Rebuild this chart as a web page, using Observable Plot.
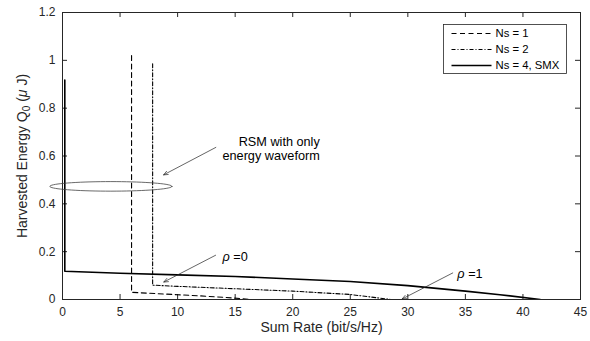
<!DOCTYPE html>
<html><head><meta charset="utf-8">
<script src="https://cdn.jsdelivr.net/npm/d3@7"></script>
<script src="https://cdn.jsdelivr.net/npm/@observablehq/plot@0.6"></script>
<style>body{margin:0;background:#fff} #chart{width:590px;height:341px}</style>
</head><body><div id="chart"></div>
<script>
// ---- data ----
const xTicks = [0, 5, 10, 15, 20, 25, 30, 35, 40, 45];
const yTicks = [0, 0.2, 0.4, 0.6, 0.8, 1, 1.2];
const seriesNames = ["Ns = 1", "Ns = 2", "Ns = 4, SMX"];
const ns1X = [6, 6, 8, 10, 12, 14, 15.5, 16.4];
const ns1Y = [1.02, 0.03, 0.025, 0.02, 0.015, 0.009, 0.004, 0];
const ns2X = [7.83, 7.83, 10, 15, 20, 25, 28.5];
const ns2Y = [0.986, 0.06, 0.055, 0.045, 0.035, 0.021, 0];
const ns4X = [0.2, 0.2, 5, 10, 15, 20, 25, 30, 35, 38, 41.5];
const ns4Y = [0.918, 0.118, 0.11, 0.103, 0.096, 0.086, 0.075, 0.058, 0.035, 0.02, 0];
// annotations
const arrowX1 = [13.32, 13.3, 33.9];
const arrowY1 = [0.636, 0.185, 0.111];
const arrowX2 = [8.78, 8.8, 29.5];
const arrowY2 = [0.521, 0.073, 0.002];
const rsmText = "RSM with only\nenergy waveform";
const rsmX = 22.35, rsmY = 0.632;
const rhoText = ["ρ =0", "ρ =1"];
const rhoX = [13.9, 34.3];
const rhoY = [0.18, 0.105];
const ellipseCenter = [4.2, 0.473];
const ellipseRadii = [5.3, 0.02];
const xLabel = "Sum Rate (bit/s/Hz)";
const yLabel = "Harvested Energy Q0 (μ J)";

// ---- build tables ----
const dashes = ["5,3.5", "4,2,1,2", null];
const widths = [1.1, 1.1, 1.6];
const xs = [ns1X, ns2X, ns4X], ys = [ns1Y, ns2Y, ns4Y];
const lineData = seriesNames.flatMap((s, i) => xs[i].map((x, j) => ({series: s, x, y: ys[i][j]})));
const arrows = arrowX1.map((x, i) => ({x1: x, y1: arrowY1[i], x2: arrowX2[i], y2: arrowY2[i]}));
const rhos = rhoText.map((t, i) => ({t, x: rhoX[i], y: rhoY[i]}));
const ellipse = d3.range(0, 73).map(k => {
  const a = (k / 72) * 2 * Math.PI;
  return {x: ellipseCenter[0] + ellipseRadii[0] * Math.cos(a), y: ellipseCenter[1] + ellipseRadii[1] * Math.sin(a)};
});

const W = 590, H = 341, mt = 12, mb = 42, ml = 62, mr = 10;
const iw = W - ml - mr, ih = H - mt - mb;
const xDom = [0, 45], yDom = [0, 1.2];
const tx = 5 / iw * (xDom[1] - xDom[0]);   // 5px tick length in x units
const ty = 5 / ih * (yDom[1] - yDom[0]);   // 5px tick length in y units
const axisColor = "#262626";
const font = "'Liberation Sans', Arial, Helvetica, sans-serif";

const marks = [
  Plot.frame({stroke: axisColor, strokeWidth: 1}),
  Plot.ruleX(xTicks, {x: d => d, y1: yDom[0], y2: yDom[0] + ty, stroke: axisColor}),
  Plot.ruleX(xTicks, {x: d => d, y1: yDom[1], y2: yDom[1] - ty, stroke: axisColor}),
  Plot.ruleY(yTicks, {y: d => d, x1: xDom[0], x2: xDom[0] + tx, stroke: axisColor}),
  Plot.ruleY(yTicks, {y: d => d, x1: xDom[1], x2: xDom[1] - tx, stroke: axisColor}),
  Plot.axisX({ticks: xTicks, tickSize: 0, tickPadding: 8, label: null, fill: axisColor, fontSize: 12, tickFormat: d => String(d)}),
  Plot.axisY({ticks: yTicks, tickSize: 0, tickPadding: 7, label: null, fill: axisColor, fontSize: 12, tickFormat: d => String(+d.toFixed(1))}),
  Plot.text([xLabel], {text: d => d, frameAnchor: "bottom", dy: 23, lineAnchor: "top", fill: axisColor, fontSize: 14}),
  Plot.text([yLabel], {text: d => d, frameAnchor: "left", dx: -40, rotate: -90, lineAnchor: "middle", textAnchor: "middle", fill: axisColor, fontSize: 14}),
  ...seriesNames.map((s, i) => Plot.line(lineData.filter(d => d.series === s), {
    x: "x", y: "y", stroke: "#000", strokeWidth: widths[i], strokeDasharray: dashes[i], clip: true
  })),
  Plot.line(ellipse, {x: "x", y: "y", stroke: "#444", strokeWidth: 0.8, curve: "linear-closed"}),
  Plot.arrow(arrows, {x1: "x1", y1: "y1", x2: "x2", y2: "y2", stroke: "#222", strokeWidth: 0.7, headLength: 10, headAngle: 45}),
  Plot.text([rsmText], {x: () => rsmX, y: () => rsmY, text: d => d, textAnchor: "end", fill: "#000", fontSize: 12.7, lineHeight: 1.08}),
  Plot.text(rhos, {x: "x", y: "y", text: "t", textAnchor: "start", fill: "#000", fontSize: 12.7})
];

const svg = Plot.plot({
  width: W, height: H, marginTop: mt, marginBottom: mb, marginLeft: ml, marginRight: mr,
  style: {fontFamily: font, background: "#fff", overflow: "visible"},
  x: {domain: xDom},
  y: {domain: yDom},
  marks
});

// rich text: subscript and italic Greek
const sel = d3.select(svg);
sel.selectAll("text").filter(function() { return this.textContent === yLabel; }).each(function() {
  const t = d3.select(this).text(null);
  t.append("tspan").text("Harvested Energy Q");
  t.append("tspan").attr("font-size", 10).attr("dy", 3).text("0");
  t.append("tspan").attr("dy", -3).text(" (");
  t.append("tspan").attr("font-style", "italic").text("μ");
  t.append("tspan").text(" J)");
});
sel.selectAll("text").filter(function() { return /^ρ/.test(this.textContent) && this.childElementCount === 0; }).each(function() {
  const s = this.textContent;
  const t = d3.select(this).text(null);
  t.append("tspan").attr("font-style", "italic").text("ρ");
  t.append("tspan").text(s.slice(1));
});

// legend (inside axes, top-right)
const lg = sel.append("g").attr("font-family", font).attr("font-size", 11.3).attr("text-anchor", "start");
const lx = 443.5, ly = 24.5, lw = 123, lh = 49;
lg.append("rect").attr("x", lx).attr("y", ly).attr("width", lw).attr("height", lh)
  .attr("fill", "#fff").attr("stroke", axisColor).attr("stroke-width", 0.8);
seriesNames.forEach((s, i) => {
  const yy = ly + 9 + i * 16;
  lg.append("line").attr("x1", lx + 8).attr("x2", lx + 48).attr("y1", yy).attr("y2", yy)
    .attr("stroke", "#000").attr("stroke-width", widths[i]).attr("stroke-dasharray", dashes[i]);
  lg.append("text").attr("x", lx + 52).attr("y", yy).attr("dy", "0.35em").attr("fill", "#000")
    .attr("text-anchor", "start").text(s);
});

document.getElementById("chart").appendChild(svg);
</script>
</body></html>
